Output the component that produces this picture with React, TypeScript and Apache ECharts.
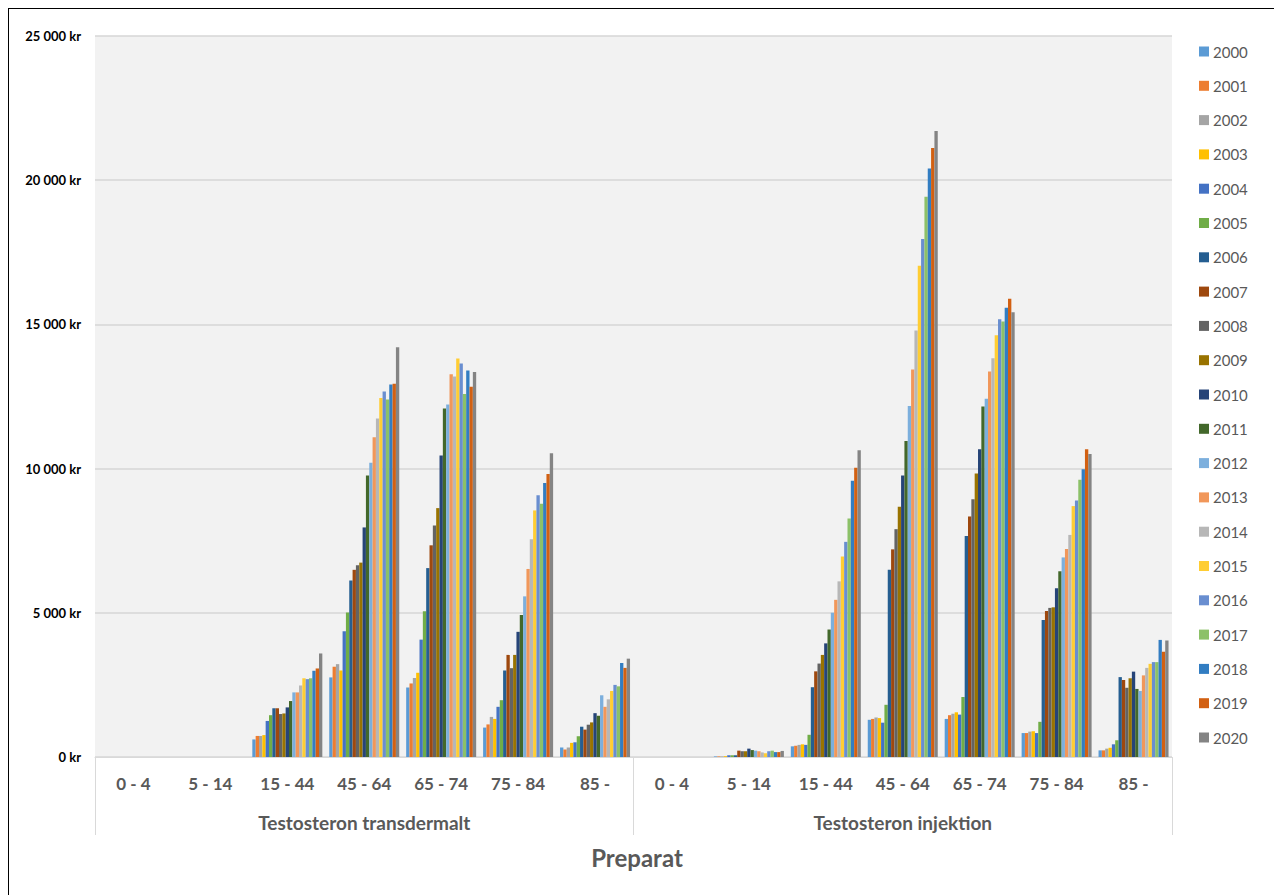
import React, { useEffect, useRef } from "react";
import * as echarts from "echarts";

const years = ["2000","2001","2002","2003","2004","2005","2006","2007","2008","2009","2010","2011","2012","2013","2014","2015","2016","2017","2018","2019","2020"];
const ageBands = ["0 - 4", "5 - 14", "15 - 44", "45 - 64", "65 - 74", "75 - 84", "85 -"];
const products = ["Testosteron transdermalt", "Testosteron injektion"];
const colors = ["#5B9BD5","#ED7D31","#A5A5A5","#FFC000","#4472C4","#70AD47","#255E91","#9E480E","#636363","#997300","#264478","#43682B","#7CAFDD","#F1975A","#B7B7B7","#FFCD33","#698ED0","#8CC168","#327DC2","#D26012","#848484"];
const yTicks = [0, 5000, 10000, 15000, 20000, 25000];

// values per age band, one value per year 2000..2020 (kr)
const td0_4 = [0,0,0,0,0,0,0,0,0,0,0,0,0,0,0,0,0,0,0,0,0];
const td5_14 = [0,0,0,0,0,0,0,0,0,0,0,0,0,0,0,0,0,0,0,0,0];
const td15_44 = [610,730,730,760,1250,1450,1690,1690,1490,1510,1720,1940,2240,2240,2480,2730,2700,2730,2990,3070,3590];
const td45_64 = [2760,3130,3220,3000,4360,5010,6120,6490,6650,6740,7960,9760,10200,11090,11740,12450,12670,12400,12920,12940,14210];
const td65_74 = [2410,2550,2740,2920,4070,5050,6550,7340,8030,8630,10450,12080,12220,13270,13190,13820,13640,12590,13400,12840,13350];
const td75_84 = [1020,1130,1390,1320,1740,1970,3000,3540,3080,3540,4340,4920,5570,6520,7550,8550,9080,8780,9500,9810,10530];
const td85 = [330,260,330,490,510,720,1050,950,1120,1200,1520,1430,2140,1740,2000,2290,2500,2450,3260,3090,3410];

const inj0_4 = [0,0,0,0,0,0,0,0,0,0,0,0,0,0,0,0,0,0,0,0,0];
const inj5_14 = [20,20,20,30,60,60,60,220,200,200,290,240,220,200,160,130,200,220,170,170,210];
const inj15_44 = [370,390,420,440,420,770,2420,2970,3240,3540,3940,4420,5000,5450,6090,6950,7460,8270,9580,10030,10640];
const inj45_64 = [1290,1320,1370,1350,1190,1810,6490,7200,7900,8680,9760,10960,12170,13440,14790,17030,17960,19430,20410,21120,21710];
const inj65_74 = [1320,1450,1500,1550,1470,2080,7660,8340,8940,9830,10670,12150,12420,13370,13830,14620,15180,15100,15580,15890,15420];
const inj75_84 = [830,830,880,890,830,1220,4750,5060,5170,5190,5850,6440,6920,7210,7700,8700,8890,9610,9980,10670,10510];
const inj85 = [230,230,290,320,440,580,2770,2670,2400,2730,2960,2360,2290,2830,3090,3230,3290,3290,4060,3650,4040];

const columns = [td0_4, td5_14, td15_44, td45_64, td65_74, td75_84, td85, inj0_4, inj5_14, inj15_44, inj45_64, inj65_74, inj75_84, inj85];

const FONT = "Lato, 'Open Sans', sans-serif";
const GRAY = "#595959";

function fmtKr(v: number): string {
  const s = String(Math.round(v));
  return s.replace(/\B(?=(\d{3})+(?!\d))/g, " ") + " kr";
}

export default function App() {
  const ref = useRef<HTMLDivElement>(null);
  useEffect(() => {
    if (!ref.current) return;
    const chart = echarts.init(ref.current, null, { renderer: "svg" });
    const categories = [...ageBands, ...ageBands];
    const series = years.map((y, i) => ({
      name: y,
      type: "bar",
      xAxisIndex: 0,
      yAxisIndex: 0,
      barGap: "0%",
      barCategoryGap: "9%",
      itemStyle: { color: colors[i] },
      data: columns.map((col) => col[i]),
    }));
    chart.setOption({
      animation: false,
      textStyle: { fontFamily: FONT },
      color: colors,
      grid: {
        left: 86,
        top: 27,
        width: 1077,
        height: 721,
        show: true,
        backgroundColor: "#f2f2f2",
        borderWidth: 0,
      },
      legend: {
        orient: "vertical",
        left: 1185,
        top: 30,
        itemWidth: 10,
        itemHeight: 10,
        itemGap: 19.3,
        icon: "rect",
        data: years,
        textStyle: { fontFamily: FONT, fontSize: 15, color: GRAY, lineHeight: 15, padding: [0, 0, 0, -1] },
      },
      xAxis: [
        {
          type: "category",
          data: categories,
          position: "bottom",
          axisLine: { show: true, lineStyle: { color: "#d9d9d9", width: 1 } },
          axisTick: { show: false },
          axisLabel: { interval: 0, margin: 18, fontFamily: FONT, fontSize: 17, fontWeight: "bold", color: GRAY },
          splitLine: { show: false },
        },
        {
          type: "category",
          data: products,
          position: "bottom",
          gridIndex: 0,
          axisLine: { show: false },
          axisTick: { show: true, length: 78, interval: 0, alignWithLabel: false, lineStyle: { color: "#d9d9d9", width: 1 } },
          axisLabel: { interval: 0, margin: 56, fontFamily: FONT, fontSize: 19, fontWeight: "bold", color: GRAY },
          splitLine: { show: false },
        },
      ],
      yAxis: {
        type: "value",
        min: yTicks[0],
        max: yTicks[yTicks.length - 1],
        interval: yTicks[1] - yTicks[0],
        axisLine: { show: false },
        axisTick: { show: false },
        axisLabel: { margin: 14, fontFamily: FONT, fontSize: 13, fontWeight: "bold", color: "#000", formatter: (v: number) => fmtKr(v) },
        splitLine: { show: true, lineStyle: { color: "#d6d6d6", width: 1.5 } },
      },
      graphic: [
        {
          type: "text",
          x: 628,
          y: 848,
          style: { text: "Preparat", fontFamily: FONT, fontSize: 24, fontWeight: "bold", fill: GRAY, align: "center", verticalAlign: "middle" },
        },
      ],
      series,
    });
    return () => chart.dispose();
  }, []);
  return (
    <div style={{ borderLeft: "1px solid #000", borderTop: "1px solid #000", width: 1273, height: 886 }}>
      <div ref={ref} style={{ width: 1273, height: 886 }} />
    </div>
  );
}
